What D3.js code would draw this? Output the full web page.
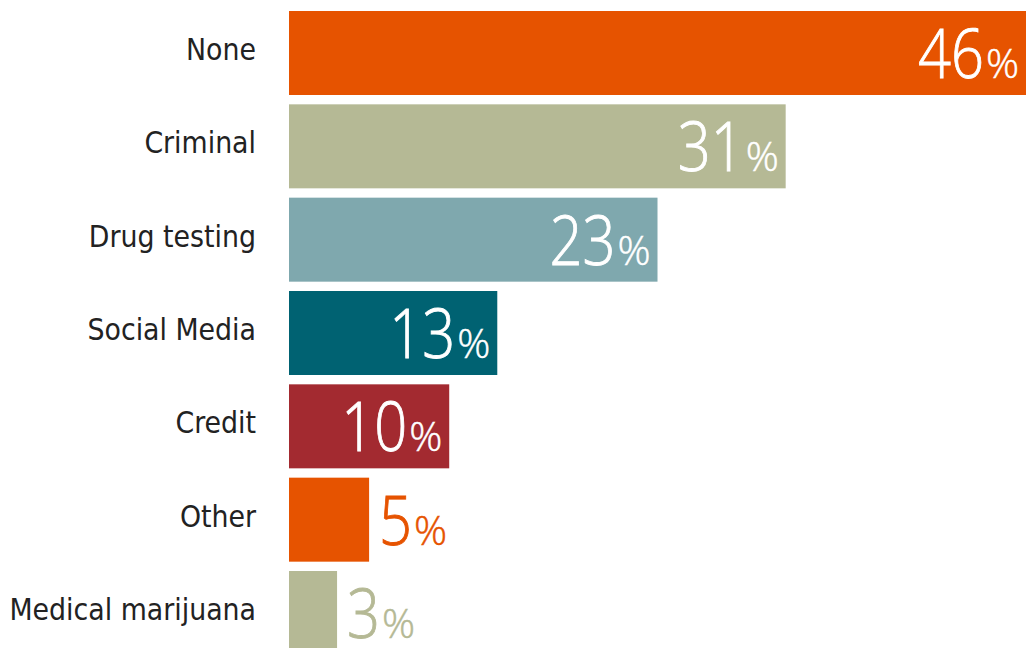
<!DOCTYPE html>
<html><head><meta charset="utf-8">
<script src="https://cdn.jsdelivr.net/npm/d3@7"></script>
<style>body{margin:0;background:#fff}svg{display:block}</style>
</head><body>
<svg id="chart" width="1026" height="648"></svg>
<script>
const categories = ["None","Criminal","Drug testing","Social Media","Credit","Other","Medical marijuana"];
const values = [46,31,23,13,10,5,3];
const colors = ["#e65300","#b5b995","#7fa8ae","#006272","#a32a30","#e65300","#b5b995"];
const insideLabel = [true,true,true,true,true,false,false];

const svg = d3.select("#chart");
const x = d3.scaleLinear().domain([0,46]).range([289,1026]);
const y = d3.scaleBand().domain(categories).range([11,655]).paddingInner(0.1).paddingOuter(0);

const g = svg.selectAll("g.row").data(categories).join("g").attr("class","row");
g.append("rect")
  .attr("x", x(0))
  .attr("y", d=>y(d))
  .attr("width", (d,i)=>x(values[i])-x(0))
  .attr("height", y.bandwidth())
  .attr("fill", (d,i)=>colors[i]);

g.append("text")
  .attr("x", 256)
  .attr("y", d=>y(d)+y.bandwidth()/2+7)
  .attr("text-anchor","end")
  .attr("font-family","'DejaVu Sans Condensed', 'DejaVu Sans'")
  .attr("font-stretch","condensed")
  .attr("font-size",29.8)
  .attr("fill","#222")
  .text(d=>d);

const sx = 0.85;
g.each(function(d,i){
  const row = d3.select(this);
  const x0 = insideLabel[i] ? x(values[i]) - 108 : x(values[i]) + 10;
  const base = y(d)+y.bandwidth()/2+25;
  const fill = insideLabel[i] ? "#fff" : colors[i];
  const num = row.append("g")
    .attr("transform", `translate(${x0},${base}) scale(${sx},1)`)
    .append("text")
    .attr("font-family","'Open Sans', sans-serif")
    .attr("font-weight",300)
    .attr("font-size",68)
    .attr("fill",fill)
    .attr("stroke",fill)
    .attr("stroke-width",0.9)
    .text(values[i]);
  const w = num.node().getComputedTextLength()*sx;
  row.append("text")
    .attr("x", x0 + w + 2)
    .attr("y", base)
    .attr("font-family","'Open Sans', sans-serif")
    .attr("font-weight",300)
    .attr("font-size",41)
    .attr("fill",fill)
    .attr("stroke",fill)
    .attr("stroke-width",0.5)
    .text("%");
});
</script>
</body></html>
